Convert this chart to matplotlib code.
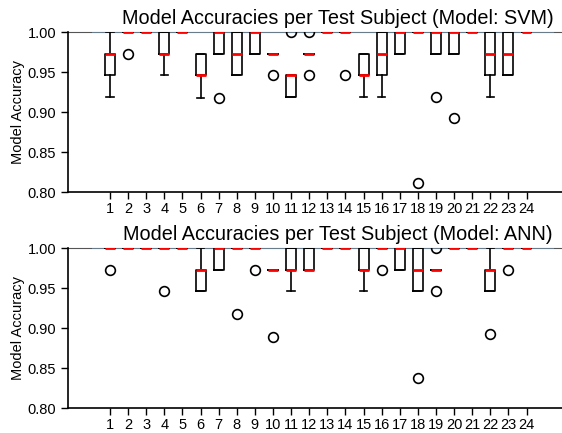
import matplotlib
matplotlib.use("Agg")
import matplotlib.pyplot as plt
from matplotlib.ticker import FormatStrFormatter

plt.rcParams['font.family'] = ['Liberation Sans', 'DejaVu Sans']

subjects = list(range(1, 25))

# accuracy values per test subject (9 runs each)
svm_acc = [
    [0.919, 0.946, 0.946, 0.946, 0.973, 0.973, 0.973, 0.973, 1.0],   # 1
    [0.973, 1.0, 1.0, 1.0, 1.0, 1.0, 1.0, 1.0, 1.0],                 # 2
    [1.0, 1.0, 1.0, 1.0, 1.0, 1.0, 1.0, 1.0, 1.0],                   # 3
    [0.946, 0.973, 0.973, 0.973, 0.973, 1.0, 1.0, 1.0, 1.0],         # 4
    [1.0, 1.0, 1.0, 1.0, 1.0, 1.0, 1.0, 1.0, 1.0],                   # 5
    [0.917, 0.946, 0.946, 0.946, 0.946, 0.973, 0.973, 0.973, 0.973], # 6
    [0.917, 0.973, 0.973, 0.973, 1.0, 1.0, 1.0, 1.0, 1.0],           # 7
    [0.946, 0.946, 0.946, 0.973, 0.973, 1.0, 1.0, 1.0, 1.0],         # 8
    [0.973, 0.973, 0.973, 1.0, 1.0, 1.0, 1.0, 1.0, 1.0],             # 9
    [0.946, 0.973, 0.973, 0.973, 0.973, 0.973, 0.973, 0.973, 0.973], # 10
    [0.919, 0.919, 0.919, 0.946, 0.946, 0.946, 0.946, 0.946, 1.0],   # 11
    [0.946, 0.973, 0.973, 0.973, 0.973, 0.973, 0.973, 0.973, 1.0],   # 12
    [1.0, 1.0, 1.0, 1.0, 1.0, 1.0, 1.0, 1.0, 1.0],                   # 13
    [0.946, 1.0, 1.0, 1.0, 1.0, 1.0, 1.0, 1.0, 1.0],                 # 14
    [0.919, 0.946, 0.946, 0.946, 0.946, 0.973, 0.973, 0.973, 0.973], # 15
    [0.919, 0.946, 0.946, 0.973, 0.973, 0.973, 1.0, 1.0, 1.0],       # 16
    [0.973, 0.973, 0.973, 1.0, 1.0, 1.0, 1.0, 1.0, 1.0],             # 17
    [0.811, 1.0, 1.0, 1.0, 1.0, 1.0, 1.0, 1.0, 1.0],                 # 18
    [0.919, 0.973, 0.973, 1.0, 1.0, 1.0, 1.0, 1.0, 1.0],             # 19
    [0.892, 0.973, 0.973, 1.0, 1.0, 1.0, 1.0, 1.0, 1.0],             # 20
    [1.0, 1.0, 1.0, 1.0, 1.0, 1.0, 1.0, 1.0, 1.0],                   # 21
    [0.919, 0.946, 0.946, 0.973, 0.973, 0.973, 1.0, 1.0, 1.0],       # 22
    [0.946, 0.946, 0.946, 0.973, 0.973, 1.0, 1.0, 1.0, 1.0],         # 23
    [1.0, 1.0, 1.0, 1.0, 1.0, 1.0, 1.0, 1.0, 1.0],                   # 24
]

ann_acc = [
    [0.973, 1.0, 1.0, 1.0, 1.0, 1.0, 1.0, 1.0, 1.0],                 # 1
    [1.0, 1.0, 1.0, 1.0, 1.0, 1.0, 1.0, 1.0, 1.0],                   # 2
    [1.0, 1.0, 1.0, 1.0, 1.0, 1.0, 1.0, 1.0, 1.0],                   # 3
    [0.946, 1.0, 1.0, 1.0, 1.0, 1.0, 1.0, 1.0, 1.0],                 # 4
    [1.0, 1.0, 1.0, 1.0, 1.0, 1.0, 1.0, 1.0, 1.0],                   # 5
    [0.946, 0.946, 0.946, 0.973, 0.973, 0.973, 0.973, 0.973, 1.0],   # 6
    [0.973, 0.973, 0.973, 1.0, 1.0, 1.0, 1.0, 1.0, 1.0],             # 7
    [0.917, 1.0, 1.0, 1.0, 1.0, 1.0, 1.0, 1.0, 1.0],                 # 8
    [0.973, 1.0, 1.0, 1.0, 1.0, 1.0, 1.0, 1.0, 1.0],                 # 9
    [0.889, 0.973, 0.973, 0.973, 0.973, 0.973, 0.973, 0.973, 0.973], # 10
    [0.946, 0.973, 0.973, 0.973, 0.973, 1.0, 1.0, 1.0, 1.0],         # 11
    [0.973, 0.973, 0.973, 0.973, 0.973, 1.0, 1.0, 1.0, 1.0],         # 12
    [1.0, 1.0, 1.0, 1.0, 1.0, 1.0, 1.0, 1.0, 1.0],                   # 13
    [1.0, 1.0, 1.0, 1.0, 1.0, 1.0, 1.0, 1.0, 1.0],                   # 14
    [0.946, 0.973, 0.973, 0.973, 0.973, 1.0, 1.0, 1.0, 1.0],         # 15
    [0.973, 1.0, 1.0, 1.0, 1.0, 1.0, 1.0, 1.0, 1.0],                 # 16
    [0.973, 0.973, 0.973, 1.0, 1.0, 1.0, 1.0, 1.0, 1.0],             # 17
    [0.838, 0.946, 0.946, 0.973, 0.973, 1.0, 1.0, 1.0, 1.0],         # 18
    [0.946, 0.973, 0.973, 0.973, 0.973, 0.973, 0.973, 0.973, 1.0],   # 19
    [1.0, 1.0, 1.0, 1.0, 1.0, 1.0, 1.0, 1.0, 1.0],                   # 20
    [1.0, 1.0, 1.0, 1.0, 1.0, 1.0, 1.0, 1.0, 1.0],                   # 21
    [0.892, 0.946, 0.946, 0.973, 0.973, 0.973, 0.973, 0.973, 1.0],   # 22
    [0.973, 1.0, 1.0, 1.0, 1.0, 1.0, 1.0, 1.0, 1.0],                 # 23
    [1.0, 1.0, 1.0, 1.0, 1.0, 1.0, 1.0, 1.0, 1.0],                   # 24
]

models = ["SVM", "ANN"]
y_ticks = [0.80, 0.85, 0.90, 0.95, 1.00]
ref_level = 1.0
ref_span = (0, 25.5)

fig = plt.figure(figsize=(5.62, 4.33), dpi=100)
W, H = 562, 433
ax_top = fig.add_axes([68 / W, 1 - 192 / H, (608 - 68) / W, 160 / H])
ax_bot = fig.add_axes([68 / W, 1 - 408 / H, (608 - 68) / W, 160 / H])

for ax, data, model in zip([ax_top, ax_bot], [svm_acc, ann_acc], models):
    ax.hlines(ref_level, ref_span[0], ref_span[1], color="#6d8598", lw=1.2, zorder=1.2)
    ax.boxplot(
        data, positions=subjects, widths=0.55, capwidths=0.4,
        boxprops=dict(color="black", lw=1.2),
        whiskerprops=dict(color="black", lw=1.2),
        capprops=dict(color="black", lw=1.2),
        medianprops=dict(color="red", lw=2, zorder=3),
        flierprops=dict(marker="o", markerfacecolor="none", markeredgecolor="black",
                        markersize=7, markeredgewidth=1.2),
    )
    ax.set_xlim(-1.32, 28.5)
    ax.set_ylim(0.80, 1.00)
    ax.set_yticks(y_ticks)
    ax.yaxis.set_major_formatter(FormatStrFormatter("%.2f"))
    ax.set_xticks(subjects)
    ax.set_xticklabels([str(s) for s in subjects])
    ax.tick_params(axis="both", labelsize=10.5, length=5, width=1, direction="out")
    ax.tick_params(axis="x", pad=2.5)
    ax.set_ylabel("Model Accuracy", fontsize=10.5, labelpad=2)
    ax.set_title(f"Model Accuracies per Test Subject (Model: {model})", fontsize=14.3, pad=5.5)
    ax.spines["top"].set_color("#555555")
    ax.spines["top"].set_zorder(1)
    for s in ["left", "bottom"]:
        ax.spines[s].set_linewidth(1.2)

fig.savefig("out.png", dpi=100)
